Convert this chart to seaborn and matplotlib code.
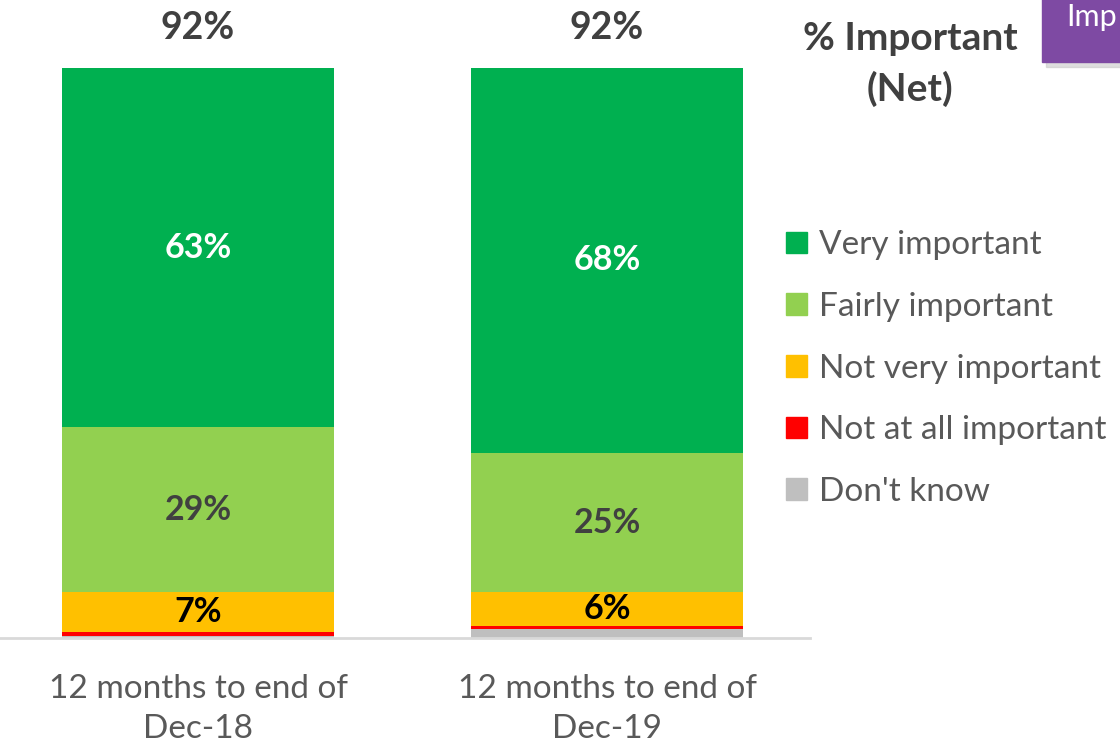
import matplotlib
matplotlib.use("Agg")
import matplotlib.pyplot as plt
import matplotlib.patches as mpatches
import seaborn as sns
import numpy as np
import pandas as pd

# data
periods = ["12 months to end of\nDec-18", "12 months to end of\nDec-19"]
levels = ["Very important", "Fairly important", "Not very important",
          "Not at all important", "Don't know"]
very = [63.0, 67.5]
fairly = [29.0, 24.5]
not_very = [7.0, 5.9]
not_at_all = [0.7, 0.6]
dont_know = [0.3, 1.5]
net_important = ["92%", "92%"]
seg_labels = {
    "Very important": ["63%", "68%"],
    "Fairly important": ["29%", "25%"],
    "Not very important": ["7%", "6%"],
}

colors = ["#00B050", "#92D050", "#FFC000", "#FF0000", "#BFBFBF"]
label_colors = {"Very important": "white", "Fairly important": "#404040",
                "Not very important": "black"}

sns.set_style("white")
plt.rcParams["font.family"] = ["Lato", "DejaVu Sans"]

df = pd.DataFrame({"period": periods, "Very important": very,
                   "Fairly important": fairly, "Not very important": not_very,
                   "Not at all important": not_at_all, "Don't know": dont_know})

fig = plt.figure(figsize=(11.2, 7.47), dpi=100)
ax = fig.add_axes([0, (747 - 638) / 747, 810 / 1120, (638 - 68) / 747])

# stacked from bottom: don't know, not at all, not very, fairly, very
stack_order = levels[::-1]
cum = df[stack_order].cumsum(axis=1)
bar_w = 0.665
# draw tallest cumulative first so smaller ones sit on top
for lvl, col in zip(levels, colors):
    sns.barplot(x=df["period"], y=cum[lvl], color=col, saturation=1,
                width=bar_w, ax=ax, linewidth=0)

# segment labels
for lvl, labs in seg_labels.items():
    top = cum[lvl]
    bottom = top - df[lvl]
    for i, lab in enumerate(labs):
        ax.text(i, (top[i] + bottom[i]) / 2, lab, ha="center", va="center",
                fontsize=24.5, fontweight="bold", color=label_colors[lvl])

for i, lab in enumerate(net_important):
    ax.text(i, 107.0, lab, ha="center", va="center", fontsize=27,
            fontweight="bold", color="#404040", clip_on=False)

ax.set_xlim(-0.484, 1.496)
ax.set_ylim(0, 100)
ax.set_xlabel("")
ax.set_ylabel("")
ax.set_yticks([])
ax.tick_params(axis="x", length=0, pad=26, labelsize=24, labelcolor="#595959")
for lab in ax.get_xticklabels():
    lab.set_linespacing(1.42)
for s in ["top", "right", "left"]:
    ax.spines[s].set_visible(False)
ax.spines["bottom"].set_color("#D9D9D9")
ax.spines["bottom"].set_linewidth(2)

# legend
handles = [mpatches.Patch(color=c, label=l) for c, l in zip(colors, levels)]
fig.legend(handles=handles, loc="upper left",
           bbox_to_anchor=(773 / 1120, 1 - 217 / 747), frameon=False,
           fontsize=24, labelcolor="#595959", handlelength=0.62,
           handleheight=0.62, handletextpad=0.35, labelspacing=0.95,
           borderaxespad=0)

fig.text(910 / 1120, 1 - 64 / 747, "% Important\n(Net)", ha="center",
         va="center", fontsize=28, fontweight="bold", color="#404040",
         linespacing=1.5)

# purple tag at top right, cut off by the page edge
fig.patches.append(mpatches.Rectangle((1046 / 1120, 1 - 67 / 747), 0.2, 0.2,
                                      transform=fig.transFigure,
                                      color="#C8C8C8", alpha=0.6, zorder=1))
fig.patches.append(mpatches.Rectangle((1042 / 1120, 1 - 62 / 747), 0.2, 0.2,
                                      transform=fig.transFigure,
                                      color="#7E4AA3", zorder=2))
fig.text(1066 / 1120, 1 - 17 / 747, "Imp", ha="left", va="center",
         fontsize=22, color="white", zorder=3)

fig.savefig("out.png", dpi=100)
